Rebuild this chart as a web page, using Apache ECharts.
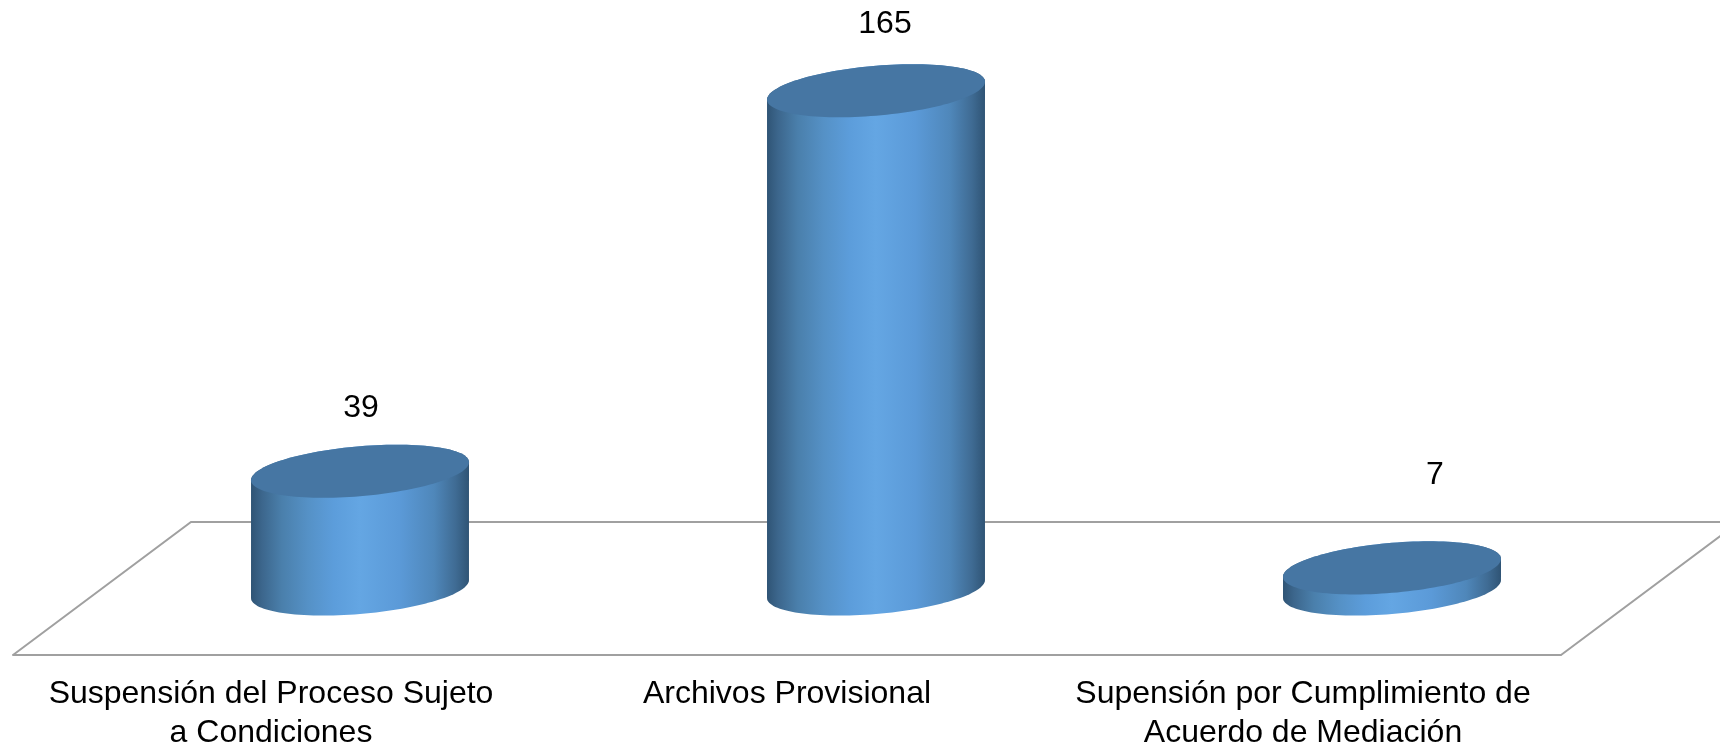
<!DOCTYPE html>
<html>
<head>
<meta charset="utf-8">
<style>html,body{margin:0;padding:0;background:#fff;overflow:hidden}#c{width:1720px;height:745px}</style>
<script src="https://cdn.jsdelivr.net/npm/echarts@6/dist/echarts.min.js"></script>
</head>
<body>
<div id="c"></div>
<script>
const categories = ['Suspensión del Proceso Sujeto\na Condiciones', 'Archivos Provisional', 'Supensión por Cumplimiento de\nAcuerdo de Mediación'];
const values = [39, 165, 7];
const valueLabelNudge = [[1, -63], [9, -67], [43, -93]];

const FONT = '"Liberation Sans", Arial, sans-serif';
const chart = echarts.init(document.getElementById('c'), null, {renderer: 'canvas'});

function ellipsePoints(cx, cy, rx, from, to, n) {
  const pts = [];
  for (let k = 0; k <= n; k++) {
    const t = from + (to - from) * k / n;
    pts.push([cx + rx * Math.cos(t), cy - rx * 0.0826 * Math.cos(t) + rx * 0.2294 * Math.sin(t)]);
  }
  return pts;
}
const bodyFill = new echarts.graphic.LinearGradient(0, 0, 1, 0, [
  {offset: 0, color: '#2f5475'},
  {offset: 0.05, color: '#3c668c'},
  {offset: 0.14, color: '#4a7fab'},
  {offset: 0.26, color: '#5591c6'},
  {offset: 0.38, color: '#5c9ddb'},
  {offset: 0.5, color: '#64a6e3'},
  {offset: 0.68, color: '#5b9ad8'},
  {offset: 0.84, color: '#4f87ba'},
  {offset: 0.94, color: '#3f6b93'},
  {offset: 1, color: '#2f5475'}
]);

function renderCylinder(params, api) {
  const i = api.value(0), v = api.value(1);
  const base = api.coord([i, 0]);
  const top = api.coord([i, v]);
  const rx = api.size([1, 0])[0] * 0.2112;
  const lower = ellipsePoints(base[0], base[1], rx, 0, Math.PI, 64);
  const upperEdge = ellipsePoints(top[0], top[1], rx, Math.PI, 2 * Math.PI, 64);
  const n = valueLabelNudge[params.dataIndex];
  return {
    type: 'group',
    children: [
      {type: 'polygon', shape: {points: lower.concat(upperEdge)}, style: {fill: bodyFill}},
      {type: 'polygon', shape: {points: ellipsePoints(top[0], top[1], rx, 0, 2 * Math.PI, 128)}, style: {fill: '#4676a3'}},
      {type: 'text', style: {x: top[0] + n[0], y: top[1] + n[1], text: String(v), fill: '#000', fontSize: 32, fontFamily: FONT, align: 'center', verticalAlign: 'middle'}}
    ]
  };
}

chart.setOption({
  animation: false,
  backgroundColor: '#fff',
  grid: [
    {left: 102, width: 1548, top: 45.4, height: 543.6, outerBoundsMode: 'none'},
    {left: 13, width: 1548, top: 522, height: 133, outerBoundsMode: 'none'}
  ],
  xAxis: [
    {type: 'category', gridIndex: 0, data: categories, show: false},
    {type: 'category', gridIndex: 1, data: categories, position: 'bottom',
      axisLine: {show: true, lineStyle: {color: '#a0a0a0', width: 2}},
      axisTick: {show: false},
      axisLabel: {interval: 0, margin: 20, color: '#000', fontSize: 32, fontFamily: FONT, lineHeight: 39, hideOverlap: false}}
  ],
  yAxis: [
    {type: 'value', gridIndex: 0, min: 0, max: 180, interval: 30, show: false},
    {type: 'value', gridIndex: 1, min: 0, max: 1, show: false}
  ],
  graphic: [{
    type: 'polyline', z: 0, silent: true,
    shape: {points: [[13, 655], [191, 522], [1739, 522], [1561, 655]]},
    style: {stroke: '#a0a0a0', lineWidth: 2, fill: null}
  }],
  series: [{
    type: 'custom', xAxisIndex: 0, yAxisIndex: 0, z: 5,
    data: values.map((v, i) => [i, v]),
    encode: {x: 0, y: 1},
    renderItem: renderCylinder
  }]
});
</script>
</body>
</html>
